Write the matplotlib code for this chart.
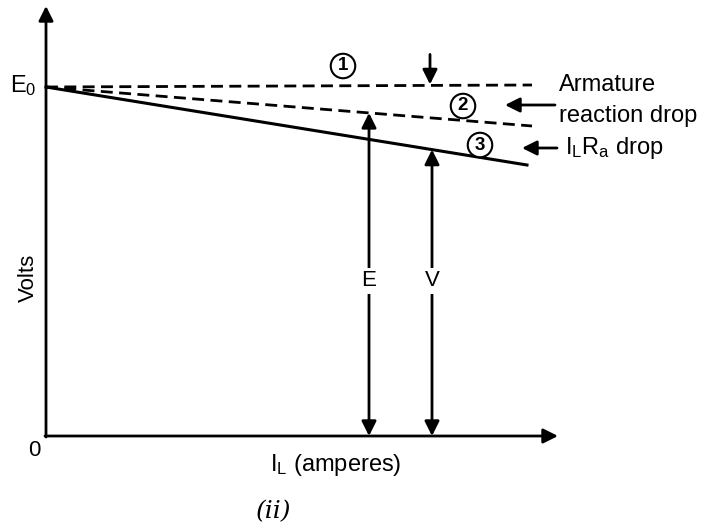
import numpy as np
from matplotlib import pyplot as plt

plt.rcParams['font.family'] = ['Liberation Sans', 'DejaVu Sans']
plt.rcParams['mathtext.fontset'] = 'custom'
plt.rcParams['mathtext.rm'] = 'Liberation Sans'
plt.rcParams['mathtext.it'] = 'Liberation Sans:italic'

# load current (x) and volts (y), origin of the sketch at (0, 0)
x_line = [0, 486]
line1 = [349, 351]     # (1) no-load e.m.f. E0
line2 = [349, 310]     # (2) after armature reaction drop
line3 = [349, 271]     # (3) after I_L R_a drop
x_line3 = [0, 481]
I_E = 323              # where E is measured
I_V = 386              # where V is measured
I_drop = 384           # armature reaction arrow
circle_labels = ['1', '2', '3']
circle_x = [297, 417, 434]
circle_y = [370, 330, 291]

fig = plt.figure(figsize=(7.04, 5.24), dpi=100)
ax = fig.add_axes([0, 0, 1, 1])
ax.set_xlim(-46, 658)
ax.set_ylim(-88, 436)
ax.axis('off')

arrow = dict(arrowstyle='-|>', mutation_scale=22, lw=2.0, color='k',
             shrinkA=0, shrinkB=0)
darrow = dict(arrowstyle='<|-|>', mutation_scale=22, lw=2.0, color='k',
              shrinkA=0, shrinkB=0)

# axes
ax.annotate('', xy=(0, 430), xytext=(0, -1), arrowprops=arrow)
ax.annotate('', xy=(512, 0), xytext=(-1, 0), arrowprops=arrow)

# characteristic lines
ax.plot(x_line, line1, 'k', lw=2.0, dashes=(4.3, 2.3))
ax.plot(x_line, line2, 'k', lw=2.0, dashes=(4.3, 2.3))
ax.plot(x_line3, line3, 'k', lw=2.2)

# E and V double arrows
E_top = np.interp(I_E, x_line, line2)
V_top = np.interp(I_V, x_line3, line3)
ax.annotate('', xy=(I_E, E_top), xytext=(I_E, 0), arrowprops=darrow)
ax.annotate('', xy=(I_V, V_top), xytext=(I_V, 0), arrowprops=darrow)
ax.text(I_E, 155, 'E', fontsize=16, ha='center', va='center',
        bbox=dict(fc='white', ec='none', pad=2))
ax.text(I_V, 155, 'V', fontsize=16, ha='center', va='center',
        bbox=dict(fc='white', ec='none', pad=2))

# drop arrow on line 1
top1 = np.interp(I_drop, x_line, line1)
ax.annotate('', xy=(I_drop, top1 + 1), xytext=(I_drop, top1 + 31),
            arrowprops=arrow)

# circled curve numbers
for lab, cx, cy in zip(circle_labels, circle_x, circle_y):
    ax.text(cx, cy, lab, fontsize=13.5, ha='center', va='center',
            fontweight='bold',
            bbox=dict(boxstyle='circle,pad=0.2', fc='white', ec='k', lw=1.5))

# side notes
ax.text(513, 351, 'Armature', fontsize=17, ha='left', va='center')
ax.text(513, 320, 'reaction drop', fontsize=17, ha='left', va='center')
ax.annotate('', xy=(459, 331), xytext=(509, 331), arrowprops=arrow)
ax.annotate('', xy=(476, 288), xytext=(511, 288), arrowprops=arrow)
ax.text(519, 288, r'I$_\mathrm{L}$R$_\mathrm{a}$ drop', fontsize=17,
        ha='left', va='center')

# axis labels
ax.text(-23, 350, r'E$_0$', fontsize=17, ha='center', va='center')
ax.text(-12, -14, '0', fontsize=16, ha='center', va='center')
ax.text(-18, 158, 'Volts', fontsize=16, rotation=90, ha='center', va='center')
ax.text(290, -29, r'I$_\mathrm{L}$ (amperes)', fontsize=17,
        ha='center', va='center')
ax.text(228, -76, '(ii)', fontsize=18, ha='center', va='center',
        family=['DejaVu Serif'], style='italic')

fig.savefig('out.png', dpi=100)
